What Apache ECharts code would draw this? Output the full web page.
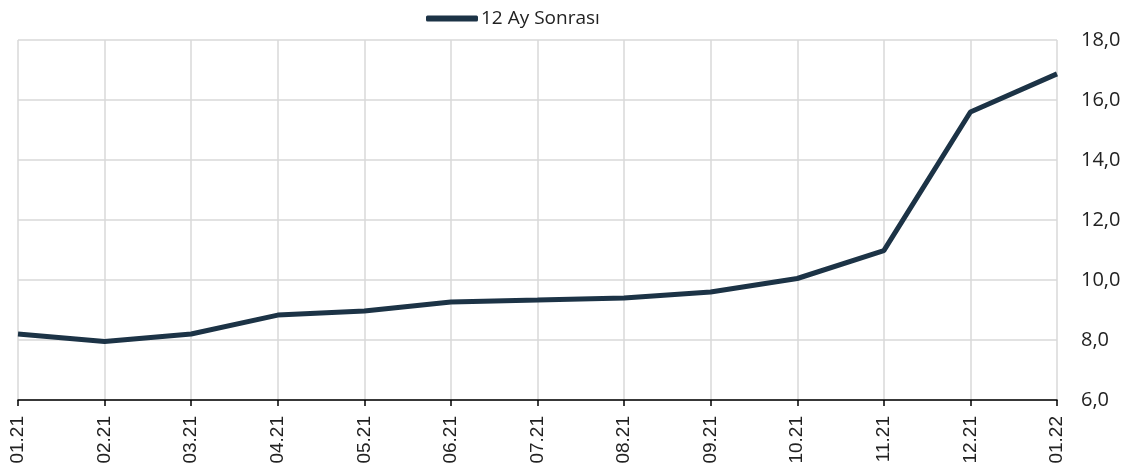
<!DOCTYPE html>
<html>
<head>
<meta charset="utf-8">
<script src="https://cdn.jsdelivr.net/npm/echarts@6/dist/echarts.min.js"></script>
<style>
  html, body { margin: 0; padding: 0; background: #fff; }
  #chart { width: 1136px; height: 471px; }
</style>
</head>
<body>
<div id="chart"></div>
<script>
// kategoriler (ay.yıl)
var categories = ['01.21', '02.21', '03.21', '04.21', '05.21', '06.21', '07.21',
                  '08.21', '09.21', '10.21', '11.21', '12.21', '01.22'];
// 12 ay sonrası beklenti
var seriesName = '12 Ay Sonrası';
var values = [8.2, 7.95, 8.2, 8.83, 8.97, 9.27, 9.33, 9.4, 9.6, 10.05, 10.98, 15.6, 16.87];
// y ekseni
var yMin = 6, yMax = 18, yStep = 2;

var myChart = echarts.init(document.getElementById('chart'));
myChart.setOption({
    animation: false,
    legend: {
        top: 4,
        left: 421,
        itemWidth: 52,
        itemHeight: 6,
        itemGap: 4,
        textStyle: { fontFamily: 'Open Sans', fontSize: 19, color: '#222', padding: [0, 0, 0, -2] },
        data: [{ name: seriesName, icon: 'roundRect' }]
    },
    grid: { left: 18, right: 79, top: 40, bottom: 71 },
    xAxis: {
        type: 'category',
        boundaryGap: false,
        data: categories,
        axisLine: { lineStyle: { color: '#000', width: 1.5 } },
        axisTick: { show: true, length: 6, lineStyle: { color: '#000', width: 1.5 } },
        axisLabel: {
            rotate: 90,
            margin: 16,
            fontFamily: 'Liberation Sans',
            fontSize: 19,
            color: '#222'
        },
        splitLine: { show: true, lineStyle: { color: '#d9d9d9', width: 1.5 } }
    },
    yAxis: {
        type: 'value',
        position: 'right',
        min: yMin,
        max: yMax,
        interval: yStep,
        axisLine: { show: false },
        axisTick: { show: false },
        axisLabel: {
            margin: 24,
            fontFamily: 'Open Sans',
            fontSize: 20,
            color: '#222',
            formatter: function (v) { return v.toFixed(1).replace('.', ','); }
        },
        splitLine: { lineStyle: { color: '#d9d9d9', width: 1.5 } }
    },
    series: [{
        name: seriesName,
        type: 'line',
        data: values,
        symbol: 'none',
        lineStyle: { color: '#1c3346', width: 5 },
        itemStyle: { color: '#1c3346' }
    }]
});
</script>
</body>
</html>
